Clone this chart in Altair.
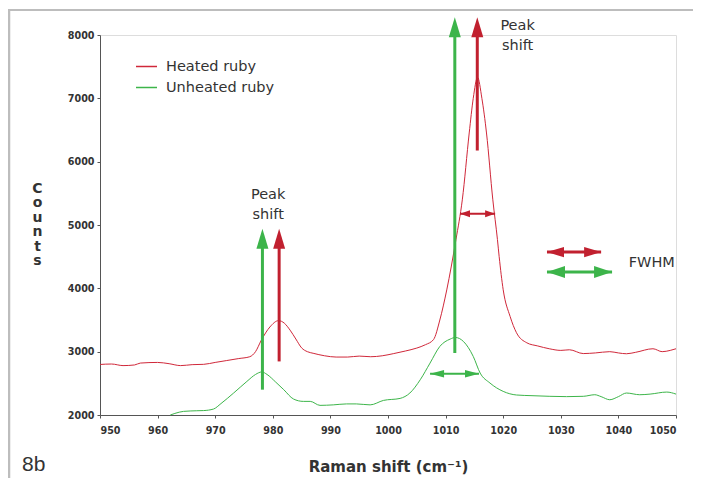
import altair as alt
import pandas as pd

# ---------------- data ----------------
heated_x = [950, 952, 954, 956, 957, 960, 962, 964, 966, 968, 970, 972, 974, 976, 977,
            978, 979.5, 981, 982, 983, 984, 985, 986, 987, 989, 991, 993, 995, 997, 999,
            1001, 1003, 1005, 1006.5, 1007.9, 1009, 1010.2, 1011.8, 1012.9, 1014.1, 1014.8,
            1015.55, 1016.3, 1017.1, 1018.2, 1019, 1019.3, 1020, 1021.2, 1022.3, 1024.1,
            1026, 1028, 1030, 1031.5, 1033.9, 1036, 1038.5, 1040, 1041.4, 1043, 1046,
            1047.6, 1049, 1050]
heated_y = [2798, 2805, 2780, 2790, 2820, 2830, 2810, 2780, 2795, 2800, 2830, 2860, 2890,
            2920, 3000, 3180, 3390, 3490, 3450, 3340, 3200, 3060, 3000, 2975, 2935, 2915,
            2915, 2930, 2920, 2935, 2970, 3010, 3057, 3110, 3190, 3500, 3975, 4770, 5397,
            6453, 7000, 7330, 7000, 6453, 5397, 4770, 4500, 3977, 3556, 3300, 3140, 3090,
            3046, 3020, 3030, 2970, 2980, 3000, 2980, 2967, 2990, 3046, 3000, 3020, 3046]

unheated_x = [962.2, 963, 964.5, 966.8, 968, 969.7, 971, 973.2, 975.5, 977, 978.1, 979,
              980.5, 981.9, 983.6, 985.3, 986.5, 988.2, 990.5, 992.8, 994.5, 996.9, 999.2,
              1002.1, 1003.8, 1005.6, 1007.3, 1009, 1010.8, 1011.7, 1013.1, 1014.8, 1016,
              1017.7, 1020, 1022.3, 1025, 1028.1, 1031, 1033.9, 1035.9, 1037, 1038.5, 1040,
              1041.4, 1043.7, 1045.5, 1048.4, 1050]
unheated_y = [2000, 2025, 2057, 2067, 2070, 2094, 2180, 2347, 2530, 2640, 2680, 2640, 2520,
              2400, 2252, 2215, 2215, 2152, 2160, 2175, 2175, 2160, 2230, 2262, 2347, 2557,
              2820, 3083, 3199, 3224, 3161, 2925, 2662, 2505, 2373, 2316, 2305, 2295, 2290,
              2295, 2320, 2290, 2241, 2290, 2347, 2320, 2330, 2362, 2330]

series_names = ["Heated ruby", "Unheated ruby"]
series_colors = ["#d0283a", "#3db54a"]
arrow_colors = {"red": "#c1202f", "green": "#3cb44a"}

x_ticks = [950, 960, 970, 980, 990, 1000, 1010, 1020, 1030, 1040, 1050]
y_ticks = [2000, 3000, 4000, 5000, 6000, 7000, 8000]

# vertical "peak shift" arrows
v_arrow_x = [978.2, 981.1, 1011.6, 1015.5]
v_arrow_from = [2400, 2846, 2980, 6176]
v_arrow_shaft_top = [4650, 4650, 8000, 8000]
v_arrow_tip = [4939, 4939, 8280, 8280]
v_arrow_col = ["green", "red", "green", "red"]

# horizontal FWHM double arrows
h_arrow_x0 = [1012.5, 1007.3, 1027.6, 1027.6]
h_arrow_x1 = [1018.6, 1015.8, 1037.0, 1038.9]
h_arrow_y = [5176, 2652, 4572, 4256]
h_arrow_col = ["red", "green", "red", "green"]
h_head_len = [10, 14, 17, 18]
h_head_half = [3.5, 3.8, 5.2, 6]
h_shaft_w = [2, 2, 3, 3]

# text annotations
note_text = ["Peak\nshift", "Peak\nshift", "FWHM"]
note_x = [979.2, 1022.5, 1041.8]
note_y = [5413, 8080, 4329]
note_align = ["center", "center", "left"]

FONT = "DejaVu Sans"
TXT = "#333333"

# ---------------- frames ----------------
lines_df = pd.DataFrame({
    "shift": heated_x + unheated_x,
    "counts": heated_y + unheated_y,
    "series": [series_names[0]] * len(heated_x) + [series_names[1]] * len(unheated_x),
})

v_df = pd.DataFrame({
    "x": v_arrow_x, "y0": v_arrow_from, "y1": v_arrow_shaft_top, "tip": v_arrow_tip,
    "c": [arrow_colors[c] for c in v_arrow_col],
})

h_rows = []
for x0, x1, y, c, L, hh, w in zip(h_arrow_x0, h_arrow_x1, h_arrow_y, h_arrow_col,
                                  h_head_len, h_head_half, h_shaft_w):
    r = 2 * hh / L
    h_rows.append({"x0": x0, "x1": x1, "y": y, "c": arrow_colors[c], "w": w,
                   "size": L * L,
                   "left": f"M0,0 L2,{-r:.3f} L2,{r:.3f} Z",
                   "right": f"M0,0 L-2,{-r:.3f} L-2,{r:.3f} Z"})
h_df = pd.DataFrame(h_rows)

notes_df = pd.DataFrame({"x": note_x, "y": note_y, "t": note_text, "a": note_align})

xs = alt.Scale(domain=[950, 1050], nice=False, zero=False)
ys = alt.Scale(domain=[2000, 8000], nice=False, zero=False)

x_axis = alt.Axis(values=x_ticks, format="d", grid=False, labelFont=FONT, labelFontSize=9.6,
                  labelFontWeight="bold", labelColor=TXT, domainColor="#555555",
                  tickColor="#555555", tickSize=3, labelPadding=7.5,
                  title="Raman shift (cm⁻¹)", titleFont=FONT,
                  titleFontSize=15, titleFontWeight="bold", titleColor=TXT,
                  titleBaseline="alphabetic", titleY=56)
y_axis = alt.Axis(values=y_ticks, format="d", grid=False, labelFont=FONT, labelFontSize=9.6,
                  labelFontWeight="bold", labelColor=TXT, domainColor="#555555",
                  tickColor="#555555", tickSize=3,
                  labelPadding=3, title=["C", "o", "u", "n", "t", "s"], titleAngle=0,
                  titleAlign="center", titleBaseline="alphabetic", titleX=-63, titleY=157,
                  titleLineHeight=14.5, titleFont=FONT, titleFontSize=14,
                  titleFontWeight="bold", titleColor=TXT)

lines = alt.Chart(lines_df).mark_line(strokeWidth=1, interpolate="monotone").encode(
    x=alt.X("shift:Q", scale=xs, axis=x_axis),
    y=alt.Y("counts:Q", scale=ys, axis=y_axis),
    color=alt.Color("series:N",
                    scale=alt.Scale(domain=series_names, range=series_colors),
                    legend=alt.Legend(orient="none", legendX=35, legendY=20, title=None,
                                      symbolType="stroke", symbolSize=441,
                                      symbolStrokeWidth=1.5, labelFont=FONT,
                                      labelFontSize=14.5, labelColor=TXT, labelOffset=8,
                                      rowPadding=3, padding=0)),
    order=alt.Order("shift:Q"),
)

v_shaft = alt.Chart(v_df).mark_rule(strokeWidth=3).encode(
    x=alt.X("x:Q", scale=xs), y=alt.Y("y0:Q", scale=ys), y2="y1:Q",
    color=alt.Color("c:N", scale=None))
v_head = alt.Chart(v_df).mark_point(filled=True, opacity=1, strokeWidth=0,
                                    shape="M0,0 L0.6,2 L-0.6,2 Z", size=400).encode(
    x=alt.X("x:Q", scale=xs), y=alt.Y("tip:Q", scale=ys),
    color=alt.Color("c:N", scale=None))

h_shaft = alt.Chart(h_df).mark_rule().encode(
    x=alt.X("x0:Q", scale=xs), x2="x1:Q", y=alt.Y("y:Q", scale=ys),
    strokeWidth=alt.StrokeWidth("w:Q", scale=None),
    color=alt.Color("c:N", scale=None))
h_head_l = alt.Chart(h_df).mark_point(filled=True, opacity=1, strokeWidth=0).encode(
    x=alt.X("x0:Q", scale=xs), y=alt.Y("y:Q", scale=ys),
    shape=alt.Shape("left:N", scale=None), size=alt.Size("size:Q", scale=None),
    color=alt.Color("c:N", scale=None))
h_head_r = alt.Chart(h_df).mark_point(filled=True, opacity=1, strokeWidth=0).encode(
    x=alt.X("x1:Q", scale=xs), y=alt.Y("y:Q", scale=ys),
    shape=alt.Shape("right:N", scale=None), size=alt.Size("size:Q", scale=None),
    color=alt.Color("c:N", scale=None))

notes_c = alt.Chart(notes_df[notes_df.a == "center"]).mark_text(
    font=FONT, fontSize=14.5, color=TXT, align="center", baseline="alphabetic",
    lineBreak="\n", lineHeight=20).encode(
    x=alt.X("x:Q", scale=xs), y=alt.Y("y:Q", scale=ys), text="t:N")
notes_l = alt.Chart(notes_df[notes_df.a == "left"]).mark_text(
    font=FONT, fontSize=14.5, color=TXT, align="left", baseline="alphabetic").encode(
    x=alt.X("x:Q", scale=xs), y=alt.Y("y:Q", scale=ys), text="t:N")

fig_label = alt.Chart(pd.DataFrame({"t": ["8b"]})).mark_text(
    font="Liberation Sans", fontSize=21, color=TXT, align="left",
    baseline="alphabetic").encode(x=alt.value(-78), y=alt.value(436), text="t:N")

frame_left = alt.Chart(pd.DataFrame({"k": [0]})).mark_rule(
    color="#bdbdbd", strokeWidth=2.5).encode(
    x=alt.value(-91), y=alt.value(-25), y2=alt.value(460))
frame_top = alt.Chart(pd.DataFrame({"k": [0]})).mark_rule(
    color="#bdbdbd", strokeWidth=2).encode(
    x=alt.value(-92.3), x2=alt.value(593), y=alt.value(-25))

chart = alt.layer(
    frame_left, frame_top, lines, v_shaft, v_head, h_shaft, h_head_l, h_head_r,
    notes_c, notes_l, fig_label,
).resolve_scale(color="independent").properties(
    width=576, height=380,
    autosize=alt.AutoSizeParams(type="none"),
    padding={"left": 92, "top": 27, "right": 17, "bottom": 63},
).configure_view(stroke=None).configure(background="white")

chart.save("out.html", embed_options={"renderer": "svg", "actions": False})
